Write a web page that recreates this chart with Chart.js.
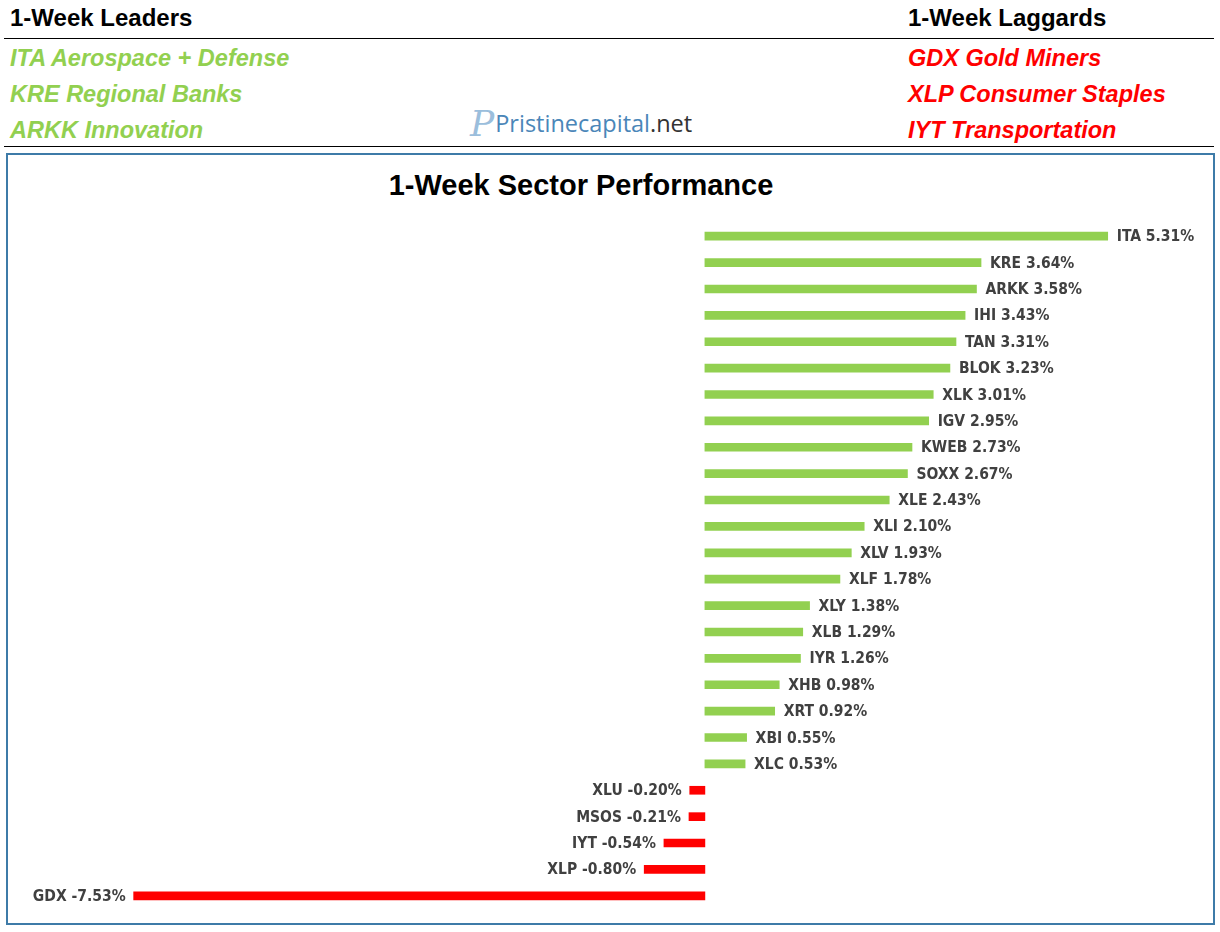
<!DOCTYPE html>
<html>
<head>
<meta charset="utf-8">
<script src="https://cdn.jsdelivr.net/npm/chart.js@4/dist/chart.umd.min.js"></script>
<style>
  html, body { margin: 0; padding: 0; background: #fff; }
  body { width: 1220px; height: 932px; position: relative; overflow: hidden; font-family: "Liberation Sans", Arial, sans-serif; }
  .abs { position: absolute; white-space: nowrap; }
  .head { font-weight: bold; font-size: 24px; color: #000; }
  .item { font-weight: bold; font-style: italic; font-size: 23.5px; }
  .green { color: #92D050; }
  .red { color: #FF0000; }
  .rule { position: absolute; left: 4px; width: 1210px; height: 1px; background: #000; }
  #box { position: absolute; left: 6px; top: 153px; width: 1205px; height: 768px; border: 2px solid #3E7BA8; }
  #title { position: absolute; left: 0; width: 1162px; top: 169px; text-align: center; font-weight: bold; font-size: 29px; color: #000; }
  #logo { left: 470px; top: 103px; font-family: "Open Sans", sans-serif; font-size: 23.5px; color: #4A86B8; }
  #logo .p { font-family: "DejaVu Serif", serif; font-style: italic; font-size: 36px; color: #9BBEDC; vertical-align: -4px; margin-right: 1px; }
  #logo .net { color: #333; }
  canvas { position: absolute; left: 8px; top: 155px; }
</style>
</head>
<body>
<div class="abs head" style="left:10px; top:4px;">1-Week Leaders</div>
<div class="abs head" style="left:908px; top:4px;">1-Week Laggards</div>
<div class="rule" style="top:38px;"></div>

<div class="abs item green" style="left:10px; top:45px;">ITA Aerospace + Defense</div>
<div class="abs item green" style="left:10px; top:81px;">KRE Regional Banks</div>
<div class="abs item green" style="left:10px; top:117px;">ARKK Innovation</div>

<div class="abs item red" style="left:908px; top:45px;">GDX Gold Miners</div>
<div class="abs item red" style="left:908px; top:81px;">XLP Consumer Staples</div>
<div class="abs item red" style="left:908px; top:117px;">IYT Transportation</div>

<div class="abs" id="logo"><span class="p">P</span>Pristinecapital<span class="net">.net</span></div>
<div class="rule" style="top:146px;"></div>

<div id="box"></div>
<div id="title">1-Week Sector Performance</div>
<canvas id="chart" width="1205" height="768"></canvas>

<script>
// ====== Datos ======
const tickers = ['ITA', 'KRE', 'ARKK', 'IHI', 'TAN', 'BLOK', 'XLK', 'IGV', 'KWEB', 'SOXX', 'XLE', 'XLI', 'XLV',
  'XLF', 'XLY', 'XLB', 'IYR', 'XHB', 'XRT', 'XBI', 'XLC', 'XLU', 'MSOS', 'IYT', 'XLP', 'GDX'];
const changes = [5.31, 3.64, 3.58, 3.43, 3.31, 3.23, 3.01, 2.95, 2.73, 2.67, 2.43, 2.10, 1.93,
  1.78, 1.38, 1.29, 1.26, 0.98, 0.92, 0.55, 0.53, -0.20, -0.21, -0.54, -0.80, -7.53];

const GREEN = '#92D050';
const RED = '#FF0000';

// etiquetas al final de cada barra
const barLabels = {
  id: 'barLabels',
  afterDatasetsDraw(chart) {
    const { ctx } = chart;
    const meta = chart.getDatasetMeta(0);
    ctx.save();
    ctx.font = 'bold 15.5px "Liberation Sans Narrow", "DejaVu Sans Condensed", sans-serif';
    ctx.fillStyle = '#404040';
    ctx.textBaseline = 'middle';
    meta.data.forEach((bar, i) => {
      const v = changes[i];
      const txt = `${tickers[i]} ${v.toFixed(2)}%`;
      if (v >= 0) {
        ctx.textAlign = 'left';
        ctx.fillText(txt, bar.x + 9, bar.y + 1);
      } else {
        ctx.textAlign = 'right';
        ctx.fillText(txt, bar.x - 8, bar.y + 1);
      }
    });
    ctx.restore();
  }
};

new Chart(document.getElementById('chart'), {
  type: 'bar',
  data: {
    labels: tickers,
    datasets: [{
      data: changes,
      backgroundColor: changes.map(v => v >= 0 ? GREEN : RED),
      barThickness: 8,
      borderWidth: 0
    }]
  },
  options: {
    indexAxis: 'y',
    responsive: false,
    animation: false,
    layout: { padding: { left: 90, right: 15, top: 68, bottom: 14 } },
    plugins: { legend: { display: false }, tooltip: { enabled: false } },
    scales: {
      x: { display: false, min: -8, max: 6.5 },
      y: { display: false }
    }
  },
  plugins: [barLabels]
});
</script>
</body>
</html>
